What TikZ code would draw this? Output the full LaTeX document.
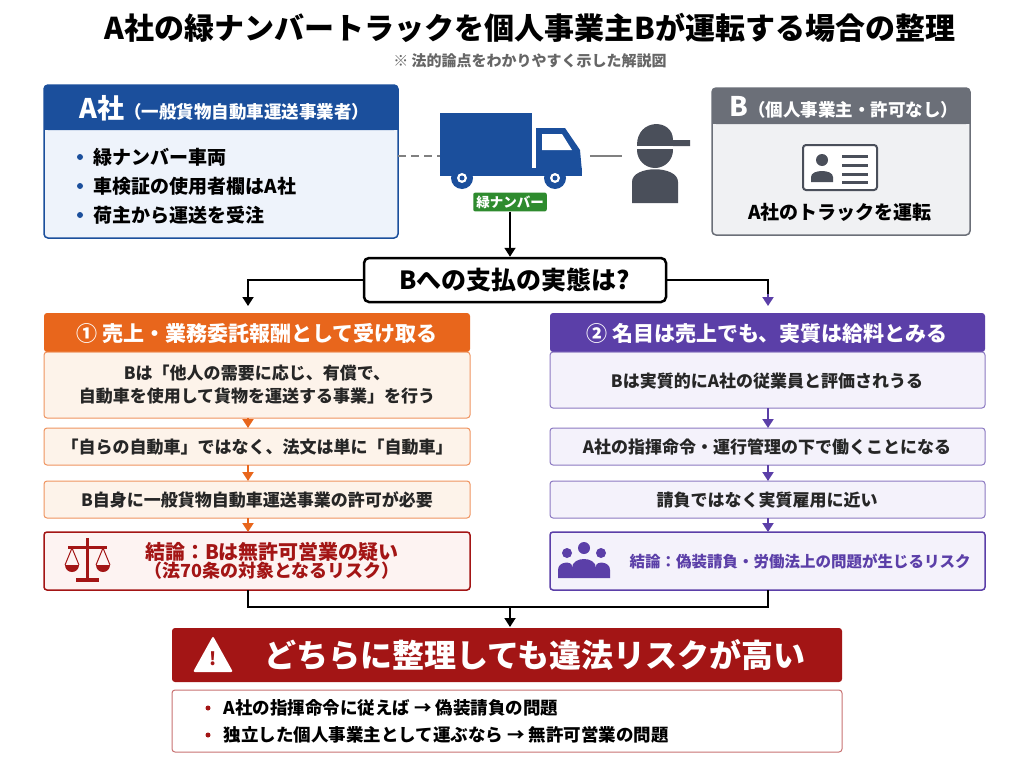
\documentclass[tikz,border=0pt]{standalone}
\usepackage{fontspec}
\setmainfont{Noto Sans CJK JP}
\usetikzlibrary{arrows.meta}
\definecolor{ablue}{HTML}{1B4F9C}
\definecolor{ablueL}{HTML}{EEF3FB}
\definecolor{bgray}{HTML}{6B6F78}
\definecolor{bgrayL}{HTML}{F0F1F3}
\definecolor{pgray}{HTML}{4A4F5A}
\definecolor{gnum}{HTML}{2E8B2E}
\definecolor{oran}{HTML}{E8661C}
\definecolor{oranL}{HTML}{FDF3EA}
\definecolor{purp}{HTML}{5B3FA8}
\definecolor{purpL}{HTML}{F4F2FB}
\definecolor{dred}{HTML}{A31515}
\definecolor{redL}{HTML}{FDF3F2}
\begin{document}
\begin{tikzpicture}[x=1pt,y=-1pt,
 txt/.style={font=\fontsize{17}{23}\selectfont\bfseries, align=center, text=black!85},
 obox/.style={draw=oran!70, fill=oranL, rounded corners=3pt, line width=1pt},
 pbox/.style={draw=purp!70, fill=purpL, rounded corners=3pt, line width=1pt},
 oarr/.style={-{Triangle[length=9pt,width=11pt]}, oran, line width=2pt},
 parr/.style={-{Triangle[length=9pt,width=11pt]}, purp, line width=2pt},
 karr/.style={-{Triangle[length=9pt,width=11pt]}, black, line width=1.8pt}]
\useasboundingbox (0,0) rectangle (1024,768);
\fill[white] (0,0) rectangle (1024,768);
% title
\node (title) at (530,28) {\fontsize{30}{34}\selectfont\bfseries A社の緑ナンバートラックを個人事業主Bが運転する場合の整理};
\node[text=black!60] (sub) at (530,61) {\fontsize{15}{18}\selectfont\bfseries ※ 法的論点をわかりやすく示した解説図};
% A box
\draw[ablue, fill=ablueL, line width=1.5pt, rounded corners=4pt] (44,85) rectangle (398,238);
\fill[ablue, rounded corners=4pt] (44,85) rectangle (398,130);
\fill[ablue] (44,115) rectangle (398,130);
\node[white, anchor=west] (Ah) at (76,108) {\fontsize{27}{30}\selectfont\bfseries A社\fontsize{17.5}{20}\selectfont （一般貨物自動車運送事業者）};
\foreach \y/\t [count=\i] in {157/緑ナンバー車両,186/車検証の使用者欄はA社,215/荷主から運送を受注}{
  \fill[ablue] (80,\y) circle (3pt);
  \node[anchor=west] (a\i) at (90,\y) {\fontsize{19}{22}\selectfont\bfseries \t};
}
% truck
\coordinate (Aright) at (398,156);
\coordinate (truckL) at (440,156);
\draw[gray, line width=2pt, dash pattern=on 8pt off 5pt] (Aright) -- (truckL);
\fill[ablue] (440,113) rectangle (532,172);
\fill[ablue] (536,128) -- (565,128) -- (580,150) -- (582,172) -- (536,172) -- cycle;
\fill[white] (542,134) -- (562,134) -- (572,150) -- (542,150) -- cycle;
\fill[ablue] (440,168) rectangle (582,176);
\foreach \cx in {462,555}{\fill[ablue] (\cx,178) circle (11pt); \fill[white] (\cx,178) circle (5pt); \fill[ablue] (\cx,178) circle (2.5pt);}
\node[fill=gnum, text=white, rounded corners=2pt, inner sep=3pt, font=\fontsize{13.5}{15}\selectfont\bfseries] (green) at (510,202) {緑ナンバー};
% person
\draw[gray, line width=2pt] (590,156) -- (622,156);
\fill[pgray] (632,203) -- (632,182) .. controls (632,165) and (678,165) .. (678,182) -- (678,203) -- cycle;
\fill[pgray] (655,150) circle (18pt);
\fill[pgray] (637,145) .. controls (637,118) and (673,118) .. (673,140) -- (690,140) -- (690,146) -- (637,146) -- cycle;
\fill[white] (637,146) rectangle (673,149);
% B box
\draw[bgray, fill=bgrayL, line width=1.5pt, rounded corners=4pt] (712,88) rectangle (970,235);
\fill[bgray, rounded corners=4pt] (712,88) rectangle (970,124);
\fill[bgray] (712,110) rectangle (970,124);
\node[white, anchor=west] (Bh) at (726,107) {\fontsize{27}{30}\selectfont\bfseries B\fontsize{17.5}{20}\selectfont （個人事業主・許可なし）};
\draw[pgray, fill=white, line width=2pt, rounded corners=3pt] (803,145) rectangle (877,190);
\fill[pgray] (822,160) circle (6pt);
\fill[pgray] (811,182) -- (811,177) .. controls (811,169) and (833,169) .. (833,177) -- (833,182) -- cycle;
\foreach \yy in {156,165,174,182}{\fill[pgray] (842,\yy-1.5) rectangle (868,\yy+1.5);}
\node (Bt) at (840,212) {\fontsize{19}{22}\selectfont\bfseries A社のトラックを運転};
% question
\node[draw=black, line width=2.5pt, rounded corners=5pt, minimum width=302pt, minimum height=44pt, fill=white] (q) at (515,280) {\fontsize{25}{28}\selectfont\bfseries Bへの支払の実態は?};
\draw[karr] (green.south) -- (green.south |- q.north);
\coordinate (lh) at (248,306);
\coordinate (rh) at (768,306);
\draw[karr] (q.west) -| (lh);
\draw[black, line width=1.8pt] (q.east) -| (768,296);
\draw[parr] (768,294) -- (rh);
% left column
\fill[oran, rounded corners=3pt] (44,313) rectangle (470,352);
\node[white] (Lh) at (257,333) {\fontsize{21}{24}\selectfont\bfseries ① 売上・業務委託報酬として受け取る};
\draw[obox] (44,352) rectangle (470,418);
\node[txt] (L1) at (257,385) {Bは「他人の需要に応じ、有償で、\\自動車を使用して貨物を運送する事業」を行う};
\draw[obox] (44,428) rectangle (470,465);
\node[txt] (L2) at (257,447) {「自らの自動車」ではなく、法文は単に「自動車」};
\draw[obox] (44,481) rectangle (470,518);
\node[txt] (L3) at (257,500) {B自身に一般貨物自動車運送事業の許可が必要};
\draw[draw=dred, fill=redL, rounded corners=3pt, line width=1.5pt] (44,532) rectangle (470,590);
\node[text=dred, align=center] (L4) at (272,561) {\fontsize{20}{24}\selectfont\bfseries 結論：Bは無許可営業の疑い\\\fontsize{18}{22}\selectfont\bfseries （法70条の対象となるリスク）};
\draw[oarr] (248,418) -- (248,428);
\draw[oarr] (248,465) -- (248,481);
\draw[oarr] (248,518) -- (248,532);
% scales icon
\begin{scope}[dred]
\fill (86,538) rectangle (89,578);
\fill (76,578) rectangle (99,582);
\fill (68,546) rectangle (107,549);
\draw[line width=1pt] (72,548) -- (65,565) (72,548) -- (79,565) (103,548) -- (96,565) (103,548) -- (110,565);
\fill (65,565) arc (180:360:7pt) -- cycle;
\fill (96,565) arc (180:360:7pt) -- cycle;
\end{scope}
% right column
\fill[purp, rounded corners=3pt] (550,313) rectangle (985,352);
\node[white] (Rh) at (767,333) {\fontsize{21}{24}\selectfont\bfseries ② 名目は売上でも、実質は給料とみる};
\draw[pbox] (550,352) rectangle (985,408);
\node[txt] (R1) at (767,381) {Bは実質的にA社の従業員と評価されうる};
\draw[pbox] (550,428) rectangle (985,465);
\node[txt] (R2) at (767,447) {A社の指揮命令・運行管理の下で働くことになる};
\draw[pbox] (550,481) rectangle (985,518);
\node[txt] (R3) at (767,500) {請負ではなく実質雇用に近い};
\draw[draw=purp, fill=purpL, rounded corners=3pt, line width=1.5pt] (550,532) rectangle (985,590);
\node[text=purp] (R4) at (800,561) {\fontsize{15.5}{20}\selectfont\bfseries 結論：偽装請負・労働法上の問題が生じるリスク};
\draw[parr] (768,408) -- (768,428);
\draw[parr] (768,465) -- (768,481);
\draw[parr] (768,518) -- (768,532);
\begin{scope}[purp]
\fill (584,548) circle (6pt); \fill (567,553) circle (5pt); \fill (601,553) circle (5pt);
\fill (572,578) -- (572,568) .. controls (572,556) and (596,556) .. (596,568) -- (596,578) -- cycle;
\fill (558,578) -- (558,570) .. controls (558,561) and (572,561) .. (572,566) -- (572,578) -- cycle;
\fill (596,578) -- (596,566) .. controls (596,561) and (610,561) .. (610,570) -- (610,578) -- cycle;
\end{scope}
% merge
\coordinate (mid) at (510,607);
\draw[black, line width=1.8pt] (248,590) -- (248,607) -- (768,607) -- (768,590);
\draw[karr] (mid) -- (510,627);
% banner
\fill[dred, rounded corners=3pt] (172,628) rectangle (842,682);
\node[white] (ban) at (535,655) {\fontsize{32}{36}\selectfont\bfseries どちらに整理しても違法リスクが高い};
\fill[white, rounded corners=2pt] (213,636) -- (233,672) -- (193,672) -- cycle;
\node[text=dred] at (213,659) {\fontsize{18}{20}\selectfont\bfseries !};
\draw[dred!60, fill=white, rounded corners=3pt, line width=1pt] (172,690) rectangle (842,752);
\foreach \y/\t [count=\i] in {708/A社の指揮命令に従えば → 偽装請負の問題,735/独立した個人事業主として運ぶなら → 無許可営業の問題}{
  \fill[dred] (208,\y) circle (2.5pt);
  \node[anchor=west] (c\i) at (220,\y) {\fontsize{17.5}{20}\selectfont\bfseries \t};
}
\end{tikzpicture}
\end{document}
